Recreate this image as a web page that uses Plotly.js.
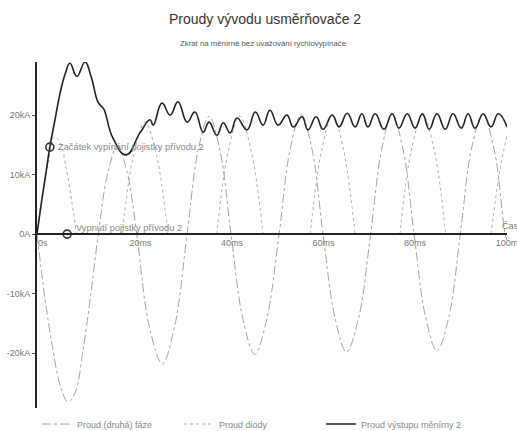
<!DOCTYPE html>
<html>
<head>
<meta charset="utf-8">
<script src="https://cdn.plot.ly/plotly-3.0.1.min.js"></script>
<style>
html,body{margin:0;padding:0;background:#fff;overflow:hidden;}
#chart{width:517px;height:431px;}
</style>
</head>
<body>
<div id="chart"></div>
<script>
// ---- data (time in ms, current in kA) ----
const phaseT = [0,1.7,3.4,5.2,6.8,8.4,10,11.6,13.4,
  15.5,17.6,19.7,21.8,
  24.5,27.4,30.1,32.8,
  35.2,37.6,40,42.4,
  45,47.6,50.2,52.9,
  55.3,57.7,60.1,62.5,
  65.1,67.6,70.3,72.9,
  75.3,77.6,80,82.4,
  84.9,87.4,90,92.5,
  94.9,97.4,99.9,102.3,102.7];
const phaseI = [0,-10.6,-19,-25.8,-28.2,-26.5,-19.8,-11,0,
  10.4,14.8,10.4,0,
  -15.4,-21.8,-15.4,0,
  14,19.8,14,0,
  -14.3,-20.2,-14.3,0,
  14.2,20.1,14.2,0,
  -14,-19.8,-14,0,
  14.2,20.1,14.2,0,
  -13.9,-19.6,-13.9,0,
  14.2,20.1,14.2,0,-1];

const diodeT = [0,1.3,2.6,3.8,5,6.4,7.6,8.6,null,
  18.6,21.1,23.6,26.1,28.6,null,
  39.3,41.8,44.3,46.8,49.4,null,
  59.7,62.2,64.6,67,69.5,null,
  79.3,81.8,84.3,86.8,89.3,null,
  99.2,101.2,102.7];
const diodeI = [0,6.5,12.5,16.3,15.5,11,5.5,0,null,
  0,13.3,18.8,13.3,0,null,
  0,14,19.8,14,0,null,
  0,14.1,20,14.1,0,null,
  0,14.1,20,14.1,0,null,
  0,11,16.5];

const outT = [0,1,2,2.8,4,5,6.2,7.2,8.7,10.5,11.8,13.3,13.9,14.6,16.6,19.5,22.5,24.7,25.4,27.3,29.1,30.8,32.8,34.5,36.3,37.6,39.3,40.7,42.2,43.7,45.9,47.7,49.4,50.9,52.7,54.6,56,57.9,59.2,61,62.5,64.5,66,67.8,69.5,71,72.3,73.9,75.8,77.6,79.1,80.9,82.6,84.2,85.7,87.4,89.2,90.9,92.7,94.2,95.7,97.5,99.2,100.8,102.7];
const outI = [0,5.5,10.5,14.6,19.5,23.5,27,28.7,26.5,28.9,26.5,22.2,21.6,21,16.1,13.3,17,19.2,18.3,22,20,22.2,18.8,20.5,17.1,18.8,16.6,18.7,17,19.5,17.5,20.5,18.3,20.8,18.3,20,18,19.7,17.5,19.7,17.6,20,18,20.3,18,20.2,18,20.2,17.6,20.2,17.8,20.2,17.8,20.2,17.6,20.2,17.6,20.2,17.8,20.2,17.8,20.2,18,20.2,18];

const eventT = [2.8, 6.6];
const eventI = [14.6, 0];
const eventText = ['Začátek vypínání pojistky přívodu 2', 'Vypnutí pojistky přívodu 2'];

const xTickVals = [0,20,40,60,80,100];
const xTickText = ['0s','20ms','40ms','60ms','80ms','100ms'];
const yTickVals = [-20,-10,0,10,20];
const yTickText = ['-20kA','-10kA','0A','10kA','20kA'];

const names = ['Proud (druhá) fáze','Proud diody','Proud výstupu měnírny 2'];

const yRange = [-29.2, 28.9];
const zeroPos = -yRange[0] / (yRange[1] - yRange[0]);

const traces = [
  {x: phaseT, y: phaseI, name: names[0], mode: 'lines',
   line: {color: '#a4a4a4', width: 1, dash: 'dashdot', shape: 'spline', smoothing: 1}},
  {x: diodeT, y: diodeI, name: names[1], mode: 'lines', connectgaps: false,
   line: {color: '#ababab', width: 1, dash: 'dot', shape: 'spline', smoothing: 1}},
  {x: outT, y: outI, name: names[2], mode: 'lines',
   line: {color: '#222', width: 1.6, shape: 'spline', smoothing: 1.3}},
  {x: eventT, y: eventI, mode: 'markers', showlegend: false, hoverinfo: 'skip',
   marker: {symbol: 'circle-open', size: 8, color: '#333', line: {width: 1.6, color: '#333'}}}
];

const font = {family: 'Liberation Sans, Arial, sans-serif'};

const layout = {
  width: 517, height: 431,
  margin: {l: 37, r: 10, t: 62, b: 23, autoexpand: false},
  paper_bgcolor: '#fff', plot_bgcolor: '#fff',
  font: {family: font.family, color: '#777', size: 9},
  title: {text: 'Proudy vývodu usměrňovače 2', x: 265/517, xanchor: 'center',
          y: 1 - 19/431, yanchor: 'middle', yref: 'container',
          font: {family: font.family, size: 14, color: '#333'}},
  showlegend: true,
  legend: {orientation: 'h', x: 0, xanchor: 'left', yref: 'container', y: 1 - 424/431, yanchor: 'middle',
           font: {family: font.family, size: 9, color: '#888'},
           entrywidth: 97, entrywidthmode: 'pixels', bgcolor: 'rgba(0,0,0,0)'},
  xaxis: {range: [0, 102.7], anchor: 'free', position: zeroPos,
          showline: true, linecolor: '#222', linewidth: 2,
          showgrid: false, zeroline: false,
          tickvals: xTickVals, ticktext: xTickText,
          ticks: '', ticklabelposition: 'outside right', ticklabeloverflow: 'allow',
          tickfont: {family: font.family, size: 9, color: '#777'}},
  yaxis: {range: yRange, showline: true, linecolor: '#222', linewidth: 2,
          showgrid: false, zeroline: false,
          tickvals: yTickVals, ticktext: yTickText,
          ticks: 'outside', ticklen: 3, tickcolor: '#444',
          tickfont: {family: font.family, size: 9, color: '#777'}},
  annotations: [
    {text: 'Zkrat na měnírně bez uvažování rychlovypínače', xref: 'paper', yref: 'paper',
     x: (263 - 37) / 470, y: 1 + 18/346, xanchor: 'center', yanchor: 'middle', showarrow: false,
     font: {family: font.family, size: 7.8, color: '#555'}},
    {text: eventText[0], xref: 'x', yref: 'y', x: eventT[0] + 1.3, y: eventI[0],
     xanchor: 'left', yanchor: 'middle', showarrow: false,
     font: {family: font.family, size: 9.3, color: '#888'}},
    {text: eventText[1], xref: 'x', yref: 'y', x: eventT[1] + 1.4, y: 1,
     xanchor: 'left', yanchor: 'middle', showarrow: false,
     font: {family: font.family, size: 9.3, color: '#888'}},
    {text: 'Čas', xref: 'x', yref: 'y', x: 101.2, y: 1.4,
     xanchor: 'left', yanchor: 'middle', showarrow: false,
     font: {family: font.family, size: 9, color: '#777'}}
  ]
};

Plotly.newPlot('chart', traces, layout, {displayModeBar: false, staticPlot: true});
</script>
</body>
</html>
